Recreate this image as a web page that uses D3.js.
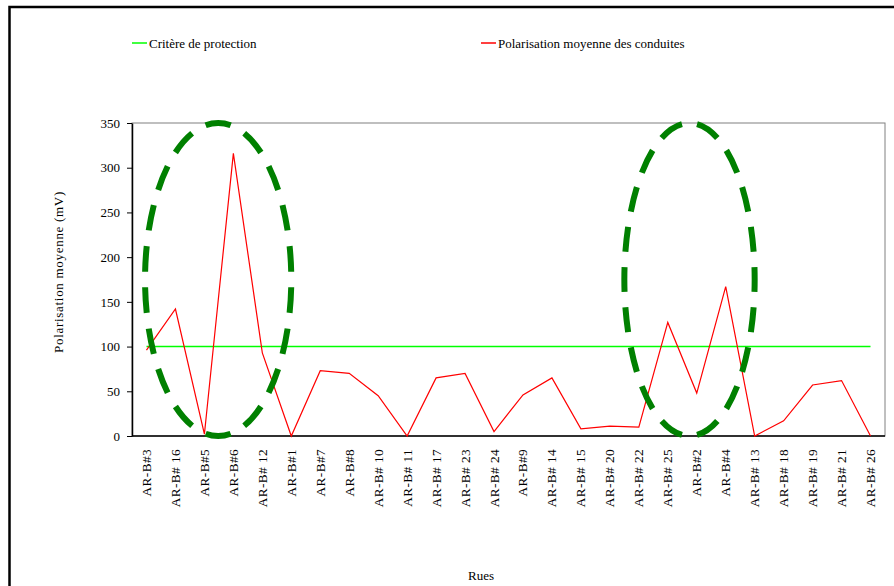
<!DOCTYPE html>
<html>
<head>
<meta charset="utf-8">
<script src="https://cdn.jsdelivr.net/npm/d3@7"></script>
<style>
  html, body { margin: 0; padding: 0; background: #ffffff; }
  svg { display: block; }
  text { font-family: "Liberation Serif", "Times New Roman", serif; fill: #000; }
</style>
</head>
<body>
<script>
// ---- data ----
const categories = ["AR-B#3","AR-B# 16","AR-B#5","AR-B#6","AR-B# 12","AR-B#1","AR-B#7","AR-B#8",
  "AR-B# 10","AR-B# 11","AR-B# 17","AR-B# 23","AR-B# 24","AR-B#9","AR-B# 14","AR-B# 15",
  "AR-B# 20","AR-B# 22","AR-B# 25","AR-B#2","AR-B#4","AR-B# 13","AR-B# 18","AR-B# 19",
  "AR-B# 21","AR-B# 26"];
const polarisation = [96,142,2,316,93,0,73,70,45,0,65,70,5,46,65,8,11,10,127,48,167,0,17,57,62,0];
const critere = 100;
const yTicks = [0,50,100,150,200,250,300,350];
const seriesNames = ["Critère de protection","Polarisation moyenne des conduites"];
const axisTitleY = "Polarisation moyenne (mV)";
const axisTitleX = "Rues";
// highlighted zones (category index ranges, value ranges)
const zoneFromIndex = [-0.05, 16.5];
const zoneToIndex = [5.0, 21.0];
const zoneValueRange = [0, 350];

(function () {
const W = 894, H = 586;
const svg = d3.select("body").append("svg").attr("width", W).attr("height", H);

const pL = 132, pR = 885, pT = 123, pB = 436;
const x = d3.scaleBand().domain(categories).range([pL, pR]).padding(0);
const y = d3.scaleLinear().domain([0, 350]).range([pB, pT]);
const cx = c => x(c) + x.bandwidth() / 2;
const xi = i => cx(categories[0]) + i * x.step();

// outer frame
svg.append("path").attr("d", `M9.5,${H} V7 H${W}`)
  .attr("fill", "none").attr("stroke", "#000").attr("stroke-width", 2.5);

// plot box
svg.append("rect").attr("x", pL).attr("y", pT).attr("width", pR - pL).attr("height", pB - pT)
  .attr("fill", "none").attr("stroke", "#808080").attr("stroke-width", 1);

// y axis
const yAxis = svg.append("g").attr("transform", `translate(${pL},0)`)
  .call(d3.axisLeft(y).tickValues(yTicks).tickSize(5).tickSizeOuter(0).tickPadding(7));
yAxis.select(".domain").attr("stroke", "#000").attr("stroke-width", 1.5);
yAxis.selectAll(".tick line").attr("stroke", "#000");
yAxis.selectAll(".tick text").style("font-family", "Liberation Serif").style("font-size", "13px").attr("fill", "#000");

// x axis line
svg.append("line").attr("x1", pL).attr("x2", pR).attr("y1", pB).attr("y2", pB)
  .attr("stroke", "#000").attr("stroke-width", 1.5);

// x labels
svg.append("g").selectAll("text").data(categories).join("text")
  .attr("transform", d => `translate(${cx(d) + 4.5},449) rotate(-90)`)
  .attr("text-anchor", "end")
  .style("font-size", "13.3px")
  .style("letter-spacing", "0.4px")
  .text(d => d);

// criterion line
svg.append("line")
  .attr("x1", cx(categories[0])).attr("x2", cx(categories[categories.length - 1]))
  .attr("y1", y(critere)).attr("y2", y(critere))
  .attr("stroke", "#00ff00").attr("stroke-width", 1.5);

// polarisation line
const line = d3.line().x((d, i) => cx(categories[i])).y(d => y(d));
svg.append("path").datum(polarisation).attr("d", line)
  .attr("fill", "none").attr("stroke", "#ff0000").attr("stroke-width", 1.2);

// highlight ellipses
const dashOffsets = [34, 13];
zoneFromIndex.forEach((f, k) => {
  const x0 = xi(f), x1 = xi(zoneToIndex[k]);
  const y0 = y(zoneValueRange[1]), y1 = y(zoneValueRange[0]);
  svg.append("ellipse")
    .attr("cx", (x0 + x1) / 2).attr("cy", (y0 + y1) / 2)
    .attr("rx", (x1 - x0) / 2).attr("ry", (y1 - y0) / 2)
    .attr("pathLength", 756)
    .attr("fill", "none").attr("stroke", "#008000").attr("stroke-width", 6)
    .attr("stroke-dasharray", "26 16")
    .attr("stroke-dashoffset", dashOffsets[k]);
});

// legend
const legendX = [132, 481];
const legendColors = ["#00ff00", "#ff0000"];
seriesNames.forEach((n, i) => {
  svg.append("line").attr("x1", legendX[i]).attr("x2", legendX[i] + 15).attr("y1", 43).attr("y2", 43)
    .attr("stroke", legendColors[i]).attr("stroke-width", 1.5);
  svg.append("text").attr("x", legendX[i] + 17).attr("y", 47.5).style("font-size", "13px").text(n);
});

// axis titles
svg.append("text").attr("transform", "translate(63,272) rotate(-90)").attr("text-anchor", "middle")
  .style("font-size", "13px").style("letter-spacing", "0.7px").text(axisTitleY);
svg.append("text").attr("x", 481).attr("y", 580).attr("text-anchor", "middle")
  .style("font-size", "13px").text(axisTitleX);
})();
</script>
</body>
</html>
